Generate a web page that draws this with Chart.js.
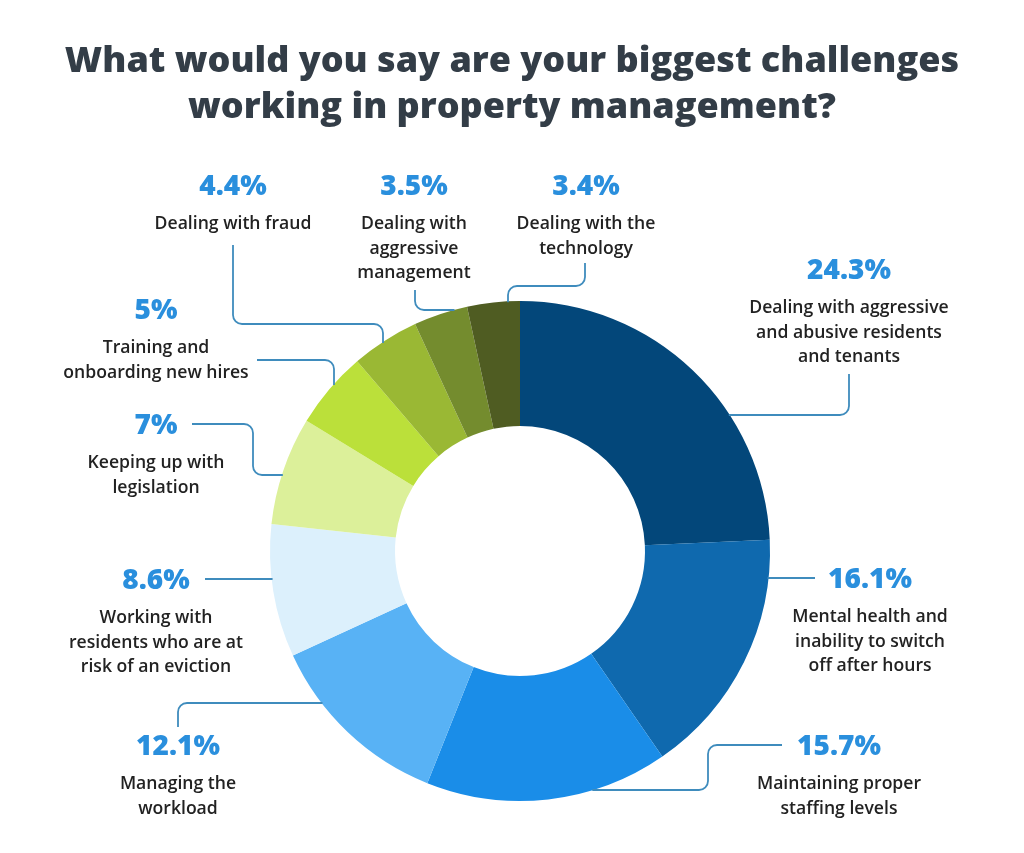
<!DOCTYPE html>
<html>
<head>
<meta charset="utf-8">
<title>Property management challenges</title>
<script src="https://cdn.jsdelivr.net/npm/chart.js@4.4.0/dist/chart.umd.min.js"></script>
<style>
    html, body { margin: 0; padding: 0; background: #ffffff; }
    #wrap { width: 1024px; height: 853px; position: relative; }
</style>
</head>
<body>
<div id="wrap"><canvas id="challengesChart"></canvas></div>
<script>
const titleLines = [
    'What would you say are your biggest challenges',
    'working in property management?'
];

const categories = [
    ['Dealing with aggressive', 'and abusive residents', 'and tenants'],
    ['Mental health and', 'inability to switch', 'off after hours'],
    ['Maintaining proper', 'staffing levels'],
    ['Managing the', 'workload'],
    ['Working with', 'residents who are at', 'risk of an eviction'],
    ['Keeping up with', 'legislation'],
    ['Training and', 'onboarding new hires'],
    ['Dealing with fraud'],
    ['Dealing with', 'aggressive', 'management'],
    ['Dealing with the', 'technology']
];

const shares = [24.3, 16.1, 15.7, 12.1, 8.6, 7, 5, 4.4, 3.5, 3.4];

const sliceColors = [
    '#03477a', '#0f69ae', '#1a8de8', '#58b2f5', '#dcf0fc',
    '#dcf09a', '#bbe03a', '#9ab834', '#748c2e', '#4f5c22'
];

// callout layout: x/y = centre of the percentage, path = leader from the text toward the ring,
// end = direction of the last leg ('h' horizontal, 'v' vertical) that runs into the ring
const callouts = [
    { x: 849, y: 269, path: [[849, 374], [849, 415]], end: 'h' },
    { x: 870, y: 578, path: [[815, 578]], end: 'h' },
    { x: 839, y: 745, path: [[782, 745], [708, 745], [708, 790]], end: 'h' },
    { x: 178, y: 745, path: [[178, 727], [178, 703]], end: 'h' },
    { x: 156, y: 579, path: [[205, 579]], end: 'h' },
    { x: 156, y: 424, path: [[192, 424], [253, 424], [253, 475]], end: 'h' },
    { x: 156, y: 309, path: [[257, 360], [334, 360]], end: 'v' },
    { x: 233, y: 185, path: [[233, 245], [233, 324], [383, 324]], end: 'v' },
    { x: 414, y: 185, path: [[415, 290], [415, 310]], end: 'h' },
    { x: 586, y: 185, path: [[585, 263], [585, 286], [508, 286]], end: 'v' }
];

const calloutPlugin = {
    id: 'callouts',
    afterDraw(chart) {
        const ctx = chart.ctx;
        const arc = chart.getDatasetMeta(0).data[0];
        const cx = arc.x, cy = arc.y, R = arc.outerRadius;

        ctx.save();

        // title
        ctx.fillStyle = '#333d47';
        ctx.textAlign = 'center';
        ctx.textBaseline = 'alphabetic';
        ctx.font = '800 36px "Open Sans"';
        ctx.fillText(titleLines[0], 512, 72);
        ctx.fillText(titleLines[1], 512, 118);

        // leader lines
        ctx.strokeStyle = '#3f8cbd';
        ctx.lineWidth = 1.8;
        ctx.lineJoin = 'round';
        callouts.forEach(function (c) {
            const pts = c.path.slice();
            const last = pts[pts.length - 1];
            let endPt;
            if (c.end === 'h') {
                const dy = last[1] - cy;
                const dx = Math.sqrt(Math.max(R * R - dy * dy, 0));
                endPt = [last[0] > cx ? cx + dx - 1 : cx - dx + 1, last[1]];
            } else {
                const dx = last[0] - cx;
                const dy = Math.sqrt(Math.max(R * R - dx * dx, 0));
                endPt = [last[0], last[1] < cy ? cy - dy + 1 : cy + dy - 1];
            }
            pts.push(endPt);

            ctx.beginPath();
            ctx.moveTo(pts[0][0], pts[0][1]);
            for (let i = 1; i < pts.length - 1; i++) {
                ctx.arcTo(pts[i][0], pts[i][1], pts[i + 1][0], pts[i + 1][1], 9);
            }
            ctx.lineTo(endPt[0], endPt[1]);
            ctx.stroke();
        });

        // percentages and descriptions
        ctx.textAlign = 'center';
        ctx.textBaseline = 'alphabetic';
        callouts.forEach(function (c, i) {
            ctx.fillStyle = '#2a8fdd';
            ctx.font = '800 28px "Open Sans"';
            ctx.fillText(shares[i] + '%', c.x, c.y + 10);

            ctx.fillStyle = '#222222';
            ctx.font = '600 17.6px "Open Sans"';
            categories[i].forEach(function (line, j) {
                ctx.fillText(line, c.x, c.y + 39 + j * 24.5 + 5);
            });
        });

        ctx.restore();
    }
};

function buildChart() {
    const ctx = document.getElementById('challengesChart').getContext('2d');
    new Chart(ctx, {
        type: 'doughnut',
        data: {
            labels: categories.map(function (c) { return c.join(' '); }),
            datasets: [{
                data: shares,
                backgroundColor: sliceColors,
                borderWidth: 0
            }]
        },
        options: {
            responsive: true,
            maintainAspectRatio: false,
            animation: false,
            cutout: '50%',
            layout: {
                padding: { left: 270, right: 254, top: 301, bottom: 52 }
            },
            plugins: {
                legend: { display: false },
                tooltip: { enabled: false }
            }
        },
        plugins: [calloutPlugin]
    });
}

Promise.all([
    document.fonts.load('800 36px "Open Sans"'),
    document.fonts.load('600 17.6px "Open Sans"')
]).then(buildChart, buildChart);
</script>
</body>
</html>
